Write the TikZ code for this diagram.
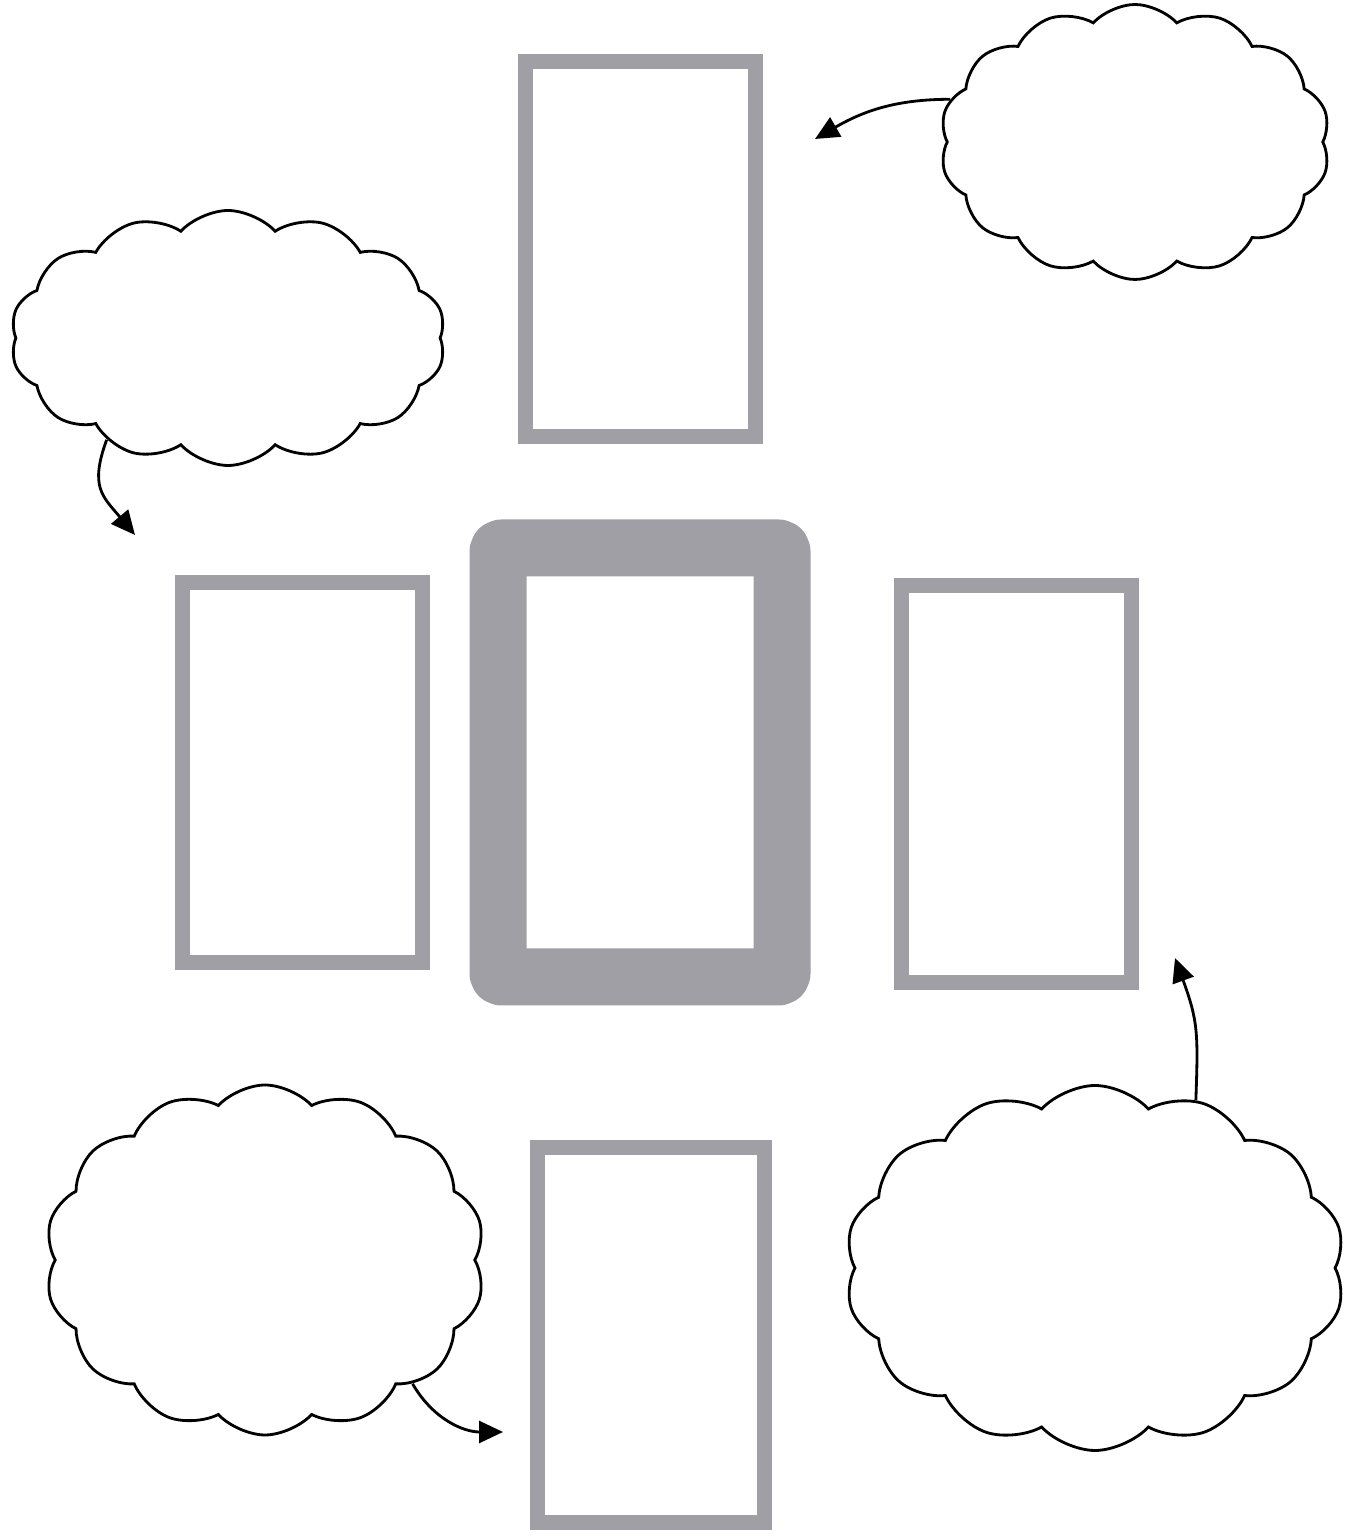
\documentclass[tikz,border=0pt]{standalone}
\usepackage{tikz}
\usetikzlibrary{positioning,shapes.symbols,arrows.meta}

\definecolor{markgray}{RGB}{160,159,166}

\begin{document}
\begin{tikzpicture}[node distance=5mm,
    panel/.style={draw=markgray, line width=1.5mm, minimum width=2.3cm, minimum height=3.8cm},
    bubble/.style={draw, cloud, cloud puffs=14, cloud puff arc=95, thick, fill=white},
    pointer/.style={-{Triangle[length=2.4mm,width=2.2mm]}, thick}]
    \useasboundingbox (0,0) rectangle (13.63,15.39);

    \node[draw=markgray, line width=5.7mm, line join=round, rounded corners=1pt,
          minimum width=2.84cm, minimum height=4.29cm] (core) at (6.40,7.765) {};
    \node[panel, minimum height=3.75cm, above=7.5mm of core] (upper) {};
    \node[panel, minimum width=2.4cm, left=4mm of core, yshift=-1mm] (west) {};
    \node[panel, minimum height=3.97cm, right=8.3mm of core, yshift=-2.2mm] (east) {};
    \node[panel, minimum width=2.27cm, minimum height=3.75cm, below=13.5mm of core, xshift=1.1mm] (lower) {};

    \node[bubble, minimum width=3.9cm, minimum height=2.75cm] (ne) at (11.35,13.97) {};
    \node[bubble, minimum width=4.35cm, minimum height=2.55cm] (nw) at (2.28,12.01) {};
    \node[bubble, minimum width=4.4cm, minimum height=3.5cm] (sw) at (2.65,2.79) {};
    \node[bubble, minimum width=5.0cm, minimum height=3.65cm] (se) at (10.95,2.71) {};

    \coordinate (toupper) at (8.15,14.00);
    \coordinate (towest) at (1.35,10.04);
    \coordinate (tolower) at (5.03,1.07);
    \coordinate (toeast) at (11.75,5.81);

    \draw[pointer] (ne.167) to[out=180, in=30] (toupper);
    \draw[pointer] (nw.-140) to[out=-110, in=130, looseness=1.3] (towest);
    \draw[pointer] (sw.-40) to[out=-60, in=180] (tolower);
    \draw[pointer] (se.59) to[out=88, in=-70, looseness=1.2] (toeast);
  \end{tikzpicture}
\end{document}
